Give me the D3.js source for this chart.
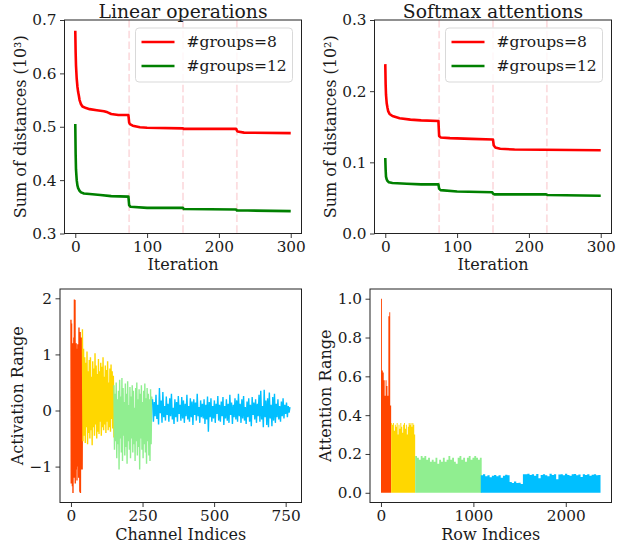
<!DOCTYPE html>
<html><head><meta charset="utf-8">
<script src="https://cdn.jsdelivr.net/npm/d3@7"></script>
<style>
body{margin:0;background:#fff}
svg text{font-family:"DejaVu Serif",serif;fill:#1a1a1a}
</style>
</head><body><svg id="c" width="627" height="544"></svg>
<script>
// ---------------- DATA ----------------
const iterBreaks = [75, 150, 225];
const legendNames = ["#groups=8", "#groups=12"];
const seriesColors = ["#ff0000", "#008000"];

// Linear operations (units of 10^3)
const linG8X = [0,0.5,1,2,3,4,5,6,8,10,15,20,30,40,45,50,60,74,75,76,80,90,100,150,151,224,225,226,235,300];
const linG8Y = [0.68,0.64,0.615,0.59,0.575,0.565,0.558,0.55,0.542,0.538,0.535,0.533,0.531,0.529,0.527,0.524,0.522,0.522,0.508,0.505,0.502,0.499,0.498,0.497,0.496,0.496,0.493,0.491,0.489,0.488];
const linG12X = [0,0.5,1,2,3,4,6,8,12,20,35,50,74,75,77,100,150,151,224,225,240,300];
const linG12Y = [0.505,0.45,0.42,0.4,0.39,0.385,0.38,0.377,0.375,0.374,0.372,0.37,0.369,0.353,0.35,0.348,0.348,0.346,0.345,0.343,0.343,0.342];

// Softmax attentions (units of 10^2)
const smG8X = [0,0.5,1,2,3,4,6,10,20,35,50,74,75,77,90,120,150,151,153,160,180,300];
const smG8Y = [0.238,0.21,0.195,0.183,0.177,0.172,0.168,0.165,0.162,0.16,0.159,0.158,0.137,0.135,0.134,0.133,0.132,0.124,0.121,0.119,0.118,0.117];
const smG12X = [0,0.5,1,2,3,5,10,30,50,74,75,77,100,149,150,152,224,226,300];
const smG12Y = [0.106,0.09,0.08,0.076,0.074,0.072,0.071,0.07,0.069,0.069,0.063,0.061,0.059,0.058,0.056,0.055,0.055,0.054,0.053];

// Activation range per channel group (start channel, channel step, values)
const actColors = ["#ff4500", "#ffd700", "#90ee90", "#00bfff"];
const actStart = [0, 40, 150, 285];
const actStep = [1, 2, 2, 3];
const actRed = [1.62,-1.3,1.55,-1.1,0.9,-1.35,1.2,-1.47,1.1,-0.9,1.3,-1.2,1.98,-1.0,1.97,-1.3,1.15,-0.8,1.2,-1.05,0.95,-1.25,1.1,-0.7,1.18,-1.0,0.8,-1.2,1.48,-0.9,1.2,-1.45,1.4,-1.47,1.0,-1.05,1.3,-0.95,1.1,-1.05,0.4];
const actYellow = [1.45,-0.55,1.1,-0.45,0.95,-0.58,0.85,-0.3,1.05,-0.6,0.7,-0.4,0.9,-0.5,0.95,-0.35,0.6,-0.62,0.88,-0.3,0.75,-0.45,1.02,-0.25,0.8,-0.5,0.65,-0.38,0.92,-0.42,0.7,-0.2,0.85,-0.45,0.78,-0.3,0.95,-0.35,0.6,-0.25,0.8,-0.4,0.72,-0.2,0.88,-0.35,0.5,-0.3,0.75,-0.38,0.82,-0.15,0.7,-0.32,0.62,-0.48];
const actGreen = [0.45,-0.7,0.3,-0.55,0.5,-0.85,0.2,-0.6,0.35,-1.05,0.55,-0.5,0.25,-0.75,0.58,-0.9,0.4,-0.45,0.15,-0.8,0.48,-0.65,0.3,-0.95,0.52,-0.55,0.1,-0.7,0.42,-0.85,0.25,-0.5,0.45,-0.75,0.35,-0.6,0.05,-0.9,0.4,-0.55,0.5,-0.8,0.2,-0.65,0.38,-1.05,0.3,-0.5,0.45,-0.7,0.15,-0.85,0.35,-0.6,0.48,-0.75,0.22,-0.95,0.4,-0.55,0.3,-0.8,0.2,-0.9,0.38,-0.6,0.25,0.1];
const actBlue = [0.2,-0.2,0.15,-0.1,0.28,-0.15,0.1,-0.25,0.4,-0.05,0.18,-0.22,0.33,-0.12,0.08,-0.18,0.25,-0.08,0.12,-0.2,
0.22,-0.1,0.3,-0.16,0.05,-0.24,0.2,-0.12,0.15,-0.2,0.26,-0.06,0.1,-0.18,0.24,-0.14,0.18,-0.22,0.12,-0.1,
0.28,-0.16,0.08,-0.2,0.22,-0.12,0.16,-0.26,0.2,-0.08,0.14,-0.18,0.3,-0.1,0.06,-0.22,0.18,-0.12,0.12,-0.14,
0.2,-0.24,0.1,-0.16,0.25,-0.38,0.15,-0.12,0.22,-0.2,0.08,-0.14,0.18,-0.22,0.12,-0.06,0.26,-0.18,0.1,-0.2,
0.16,-0.1,0.24,-0.26,0.08,-0.14,0.2,-0.18,0.12,-0.22,0.28,-0.08,0.14,-0.24,0.1,-0.12,0.22,-0.16,0.18,-0.2,
0.3,-0.1,0.12,-0.22,0.2,-0.14,0.26,-0.18,0.06,-0.24,0.16,-0.12,0.22,-0.2,0.1,-0.28,0.24,-0.08,0.14,-0.16,
0.2,-0.22,0.12,-0.1,0.28,-0.2,0.35,-0.16,0.08,-0.3,0.37,-0.12,0.18,-0.26,0.22,-0.3,0.32,-0.14,0.1,-0.28,
0.24,-0.18,0.3,-0.22,0.12,-0.12,0.2,-0.16,0.08,-0.2,0.16,-0.1,0.22,-0.14,0.1,-0.06,0.14,-0.12,0.08,-0.04,0.06];

// Attention range per row group (start row, row step, values)
const attStart = [0, 110, 370, 1080];
const attStep = [10, 10, 20, 24];
const attRed = [1.0,0.63,0.62,0.58,0.5,0.58,0.55,0.5,0.91,0.93,0.45];
const attYellow = [0.36,0.35,0.36,0.32,0.35,0.34,0.36,0.3,0.35,0.33,0.36,0.34,0.31,0.35,0.36,0.33,0.35,0.3,0.34,0.36,0.35,0.36,0.34,0.36,0.35,0.3];
const attGreen = [0.19,0.18,0.17,0.19,0.18,0.19,0.17,0.18,0.16,0.17,0.16,0.18,0.15,0.17,0.16,0.18,0.16,0.17,0.19,0.17,0.18,0.16,0.15,0.18,0.19,0.17,0.18,0.16,0.18,0.19,0.17,0.18,0.19,0.18,0.17,0.18];
const attBlue = [0.09,0.095,0.085,0.09,0.08,0.088,0.092,0.085,0.09,0.078,0.088,0.093,0.09,0.055,0.05,0.058,0.05,0.052,0.045,0.095,0.096,0.098,0.092,0.095,0.088,0.097,0.075,0.092,0.096,0.09,0.085,0.098,0.092,0.095,0.07,0.094,0.096,0.09,0.098,0.092,0.088,0.095,0.097,0.09,0.094,0.082,0.096,0.092,0.095,0.088,0.093,0.096,0.09,0.092];

// ticks
const iterTicks = [0, 100, 200, 300];
const linYTicks = [0.3, 0.4, 0.5, 0.6, 0.7];
const smYTicks = [0.0, 0.1, 0.2, 0.3];
const chanTicks = [0, 250, 500, 750];
const actYTicks = [-1, 0, 1, 2];
const rowTicks = [0, 1000, 2000];
const attYTicks = [0.0, 0.2, 0.4, 0.6, 0.8, 1.0];

// ---------------- DRAW ----------------
const svg = d3.select("#c");
const FONT = "DejaVu Serif";
const TICK = 15.3;
const LAB = 16;
let clipId = 0;

function panel(cfg) {
  const x = d3.scaleLinear().domain(cfg.xd).range([cfg.l, cfg.r]);
  const y = d3.scaleLinear().domain(cfg.yd).range([cfg.b, cfg.t]);
  const g = svg.append("g");
  const id = "clip" + (clipId++);
  svg.append("clipPath").attr("id", id).append("rect")
    .attr("x", cfg.l).attr("y", cfg.t).attr("width", cfg.r - cfg.l).attr("height", cfg.b - cfg.t);
  const plot = g.append("g").attr("clip-path", `url(#${id})`);

  const ax = g.append("g").attr("transform", `translate(0,${cfg.b})`)
    .call(d3.axisBottom(x).tickValues(cfg.xt).tickSize(4.5).tickSizeOuter(0).tickPadding(3).tickFormat(cfg.xf || d3.format("d")));
  ax.select(".domain").remove();
  ax.attr("font-family", FONT).attr("font-size", TICK);
  ax.selectAll("line").attr("stroke", "#222").attr("stroke-width", 0.9);
  const ay = g.append("g").attr("transform", `translate(${cfg.l},0)`)
    .call(d3.axisLeft(y).tickValues(cfg.yt).tickSize(4.5).tickSizeOuter(0).tickPadding(3.5).tickFormat(cfg.yf));
  ay.select(".domain").remove();
  ay.attr("font-family", FONT).attr("font-size", TICK);
  ay.selectAll("line").attr("stroke", "#222").attr("stroke-width", 0.9);

  // labels
  const cx = (cfg.l + cfg.r) / 2, cy = (cfg.t + cfg.b) / 2;
  g.append("text").attr("x", cx).attr("y", cfg.b + cfg.xlabDy).attr("text-anchor", "middle")
    .attr("font-size", LAB).text(cfg.xlab);
  g.append("text").attr("transform", `translate(${cfg.ylabX},${cy}) rotate(-90)`).attr("text-anchor", "middle")
    .attr("font-size", LAB).text(cfg.ylab);
  if (cfg.title) {
    g.append("text").attr("x", cx).attr("y", cfg.t - 2.5).attr("text-anchor", "middle")
      .attr("font-size", 18.8).text(cfg.title);
  }
  return { x, y, g, plot, cfg };
}

function frame(p) {
  const c = p.cfg;
  p.g.append("rect").attr("x", c.l).attr("y", c.t).attr("width", c.r - c.l).attr("height", c.b - c.t)
    .attr("fill", "none").attr("stroke", "#222").attr("stroke-width", 1);
}

function convPanel(cfg, series) {
  const p = panel(cfg);
  // dashed break lines
  p.plot.selectAll("line.brk").data(iterBreaks).join("line")
    .attr("x1", d => p.x(d)).attr("x2", d => p.x(d)).attr("y1", cfg.t).attr("y2", cfg.b)
    .attr("stroke", "#fcdde0").attr("stroke-width", 1.8).attr("stroke-dasharray", "7.5,3.3");
  const line = d3.line().x(d => p.x(d[0])).y(d => p.y(d[1]));
  series.forEach((s, i) => {
    p.plot.append("path").attr("d", line(d3.zip(s[0], s[1])))
      .attr("fill", "none").attr("stroke", seriesColors[i]).attr("stroke-width", 2.6)
      .attr("stroke-linejoin", "round");
  });
  // legend
  const lx = cfg.l + 71, ly = cfg.t + 8;
  p.g.append("rect").attr("x", lx).attr("y", ly).attr("width", 157).attr("height", 54).attr("rx", 3.5)
    .attr("fill", "#fff").attr("fill-opacity", 0.8).attr("stroke", "#d9d9d9").attr("stroke-width", 1);
  legendNames.forEach((n, i) => {
    const yy = ly + 14 + i * 24;
    p.g.append("line").attr("x1", lx + 6).attr("x2", lx + 39).attr("y1", yy).attr("y2", yy)
      .attr("stroke", seriesColors[i]).attr("stroke-width", 2.6);
    p.g.append("text").attr("x", lx + 51).attr("y", yy + 5.3).attr("font-size", 15.5).text(n);
  });
  frame(p);
}

convPanel({ l: 64.5, r: 301.5, t: 20, b: 233.5, xd: [-15, 315], yd: [0.3, 0.7], xt: iterTicks, yt: linYTicks,
  yf: d3.format(".1f"), xlab: "Iteration", xlabDy: 36.5, ylab: "Sum of distances (10³)", ylabX: 26, title: "Linear operations" },
  [[linG8X, linG8Y], [linG12X, linG12Y]]);
convPanel({ l: 374.5, r: 611.5, t: 20, b: 233.5, xd: [-15, 315], yd: [0, 0.3], xt: iterTicks, yt: smYTicks,
  yf: d3.format(".1f"), xlab: "Iteration", xlabDy: 36.5, ylab: "Sum of distances (10²)", ylabX: 336, title: "Softmax attentions" },
  [[smG8X, smG8Y], [smG12X, smG12Y]]);

// Activation panel
{
  const p = panel({ l: 60, r: 301.5, t: 289, b: 502.5, xd: [-38.35, 805.35], yd: [-1.64, 2.166], xt: chanTicks, yt: actYTicks,
    yf: d => d < 0 ? "\u2212" + Math.abs(d) : String(d), xlab: "Channel Indices", xlabDy: 37.5, ylab: "Activation Range", ylabX: 22.5 });
  const line = d3.line().x(d => p.x(d[0])).y(d => p.y(d[1]));
  [actRed, actYellow, actGreen, actBlue].forEach((vals, k) => {
    const pts = vals.map((v, i) => [actStart[k] + i * actStep[k], v]);
    p.plot.append("path").attr("d", line(pts)).attr("fill", "none")
      .attr("stroke", actColors[k]).attr("stroke-width", 1.4).attr("stroke-linejoin", "miter");
  });
  frame(p);
}

// Attention panel
{
  const p = panel({ l: 370, r: 611.5, t: 289, b: 502.5, xd: [-118.8, 2494.8], yd: [-0.05, 1.05], xt: rowTicks, yt: attYTicks,
    yf: d3.format(".1f"), xlab: "Row Indices", xlabDy: 37.5, ylab: "Attention Range", ylabX: 331 });
  const area = d3.area().curve(d3.curveStepAfter).x(d => p.x(d[0])).y0(p.y(0)).y1(d => p.y(d[1]));
  [attRed, attYellow, attGreen, attBlue].forEach((vals, k) => {
    const pts = vals.map((v, i) => [attStart[k] + i * attStep[k], v]);
    pts.push([attStart[k] + vals.length * attStep[k], vals[vals.length - 1]]);
    p.plot.append("path").attr("d", area(pts)).attr("fill", actColors[k]).attr("stroke", "none");
  });
  frame(p);
}
</script></body></html>
